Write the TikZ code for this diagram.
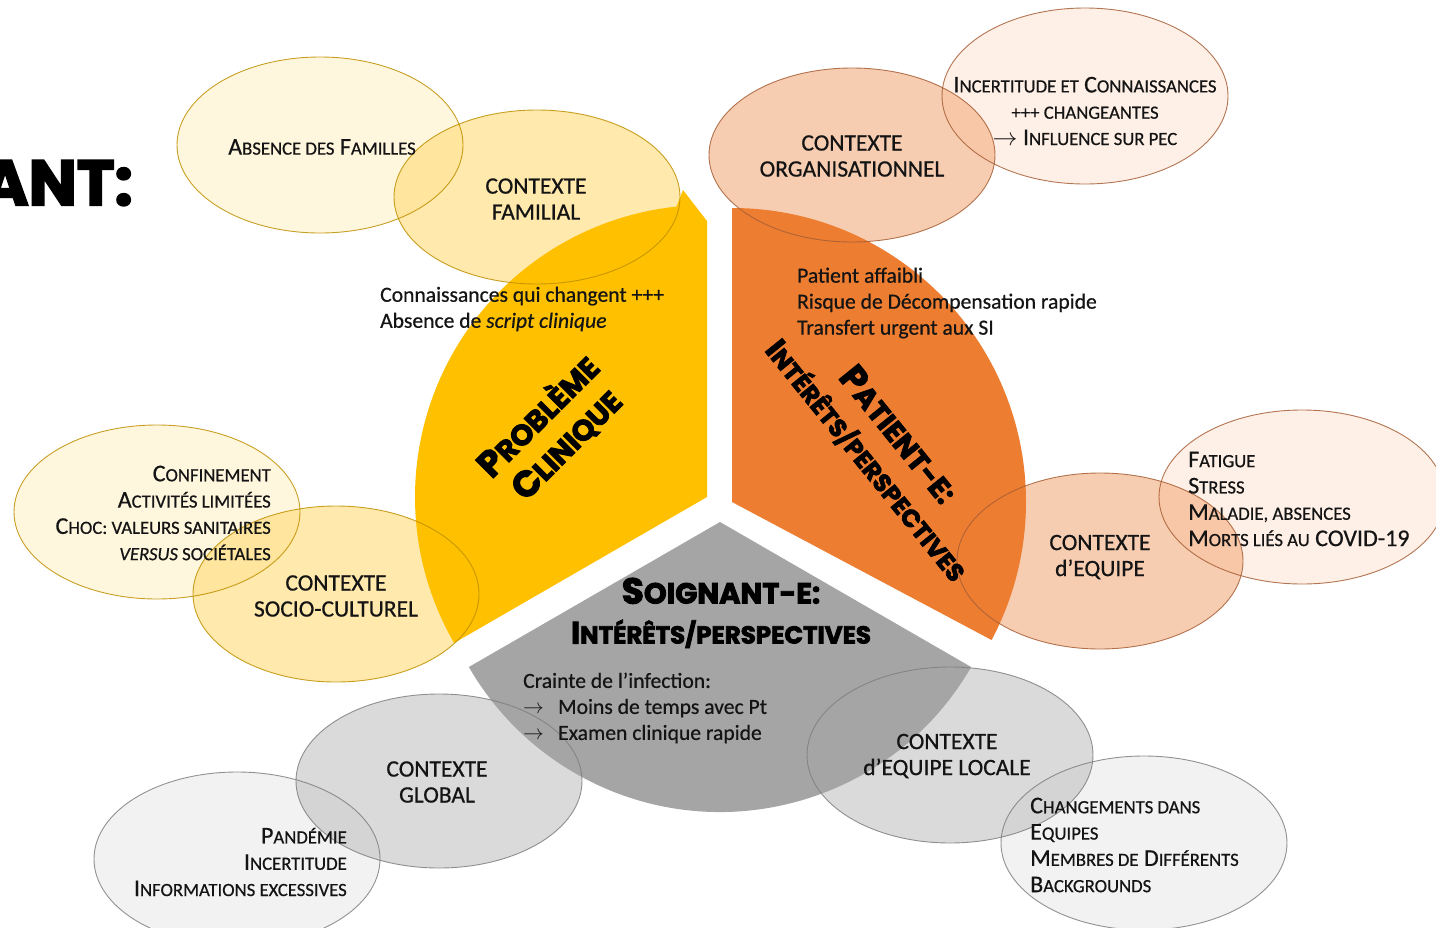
\documentclass[tikz,border=0pt]{standalone}
\usepackage{fontspec}
\setmainfont{Carlito}[UprightFeatures={FakeBold=0.6}, ItalicFeatures={FakeBold=0.6}]
\newfontfamily\heavy{Poppins}[BoldFeatures={FakeBold=3}]

% sector and bubble colours
\definecolor{secY}{HTML}{FFC000}
\definecolor{secO}{HTML}{ED7D31}
\definecolor{secG}{HTML}{A5A5A5}
\definecolor{lnY}{HTML}{BF9000}
\definecolor{lnO}{HTML}{A65E35}
\definecolor{lnG}{HTML}{7F7F7F}
\definecolor{inY}{HTML}{FFDA75}
\definecolor{outY}{HTML}{FFF0C8}
\definecolor{inO}{HTML}{F2AC7D}
\definecolor{outO}{HTML}{FFE6D7}
\definecolor{inG}{HTML}{C1C1C1}
\definecolor{outG}{HTML}{E9E9E9}
\definecolor{ink}{HTML}{141414}

% small capitals built by hand
\newcommand\lo[1]{{\fontsize{18.7}{18.7}\selectfont #1}}
\newcommand\hA[1]{{\fontsize{29}{29}\selectfont #1}}
\newcommand\hC[1]{{\fontsize{24.5}{24.5}\selectfont #1}}
\newcommand\subttl[2]{{\fontsize{31}{31}\selectfont #1\hC{#2}}}
\newcommand\arr{\makebox[35pt][l]{$\rightarrow$}}

\begin{document}
\begin{tikzpicture}[x=1pt,y=-1pt,
  body/.style={inner sep=0pt, text=ink, font=\fontsize{21.6}{26}\selectfont},
  ctx/.style={inner sep=0pt, text=ink, align=center, font=\fontsize{23.5}{26}\selectfont},
  caps/.style={inner sep=0pt, text=ink, font=\fontsize{24}{26.3}\selectfont},
  ttl/.style={inner sep=0pt, text=black, align=center, font=\heavy\bfseries\fontsize{36}{40}\selectfont},
  bubble/.style={line width=0.9pt, draw opacity=0.85},
]
\useasboundingbox (0,0) rectangle (1436,927);

% ---- bubble fills (under the sectors)
\begin{scope}[fill opacity=0.6]
  \fill[outY] (320,145) ellipse [x radius=143, y radius=88];
  \fill[outY] (157,512) ellipse [x radius=143, y radius=87];
  \fill[inY]  (537,197) ellipse [x radius=143, y radius=87];
  \fill[inY]  (336,594) ellipse [x radius=143, y radius=88];
  \fill[outO] (1085,96) ellipse [x radius=143, y radius=88];
  \fill[outO] (1302,497) ellipse [x radius=143, y radius=87];
  \fill[inO]  (852,155) ellipse [x radius=143, y radius=87];
  \fill[inO]  (1100,561) ellipse [x radius=143, y radius=88];
  \fill[outG] (237,859) ellipse [x radius=143, y radius=87];
  \fill[outG] (1144,843) ellipse [x radius=143, y radius=87];
  \fill[inG]  (439,781) ellipse [x radius=143, y radius=87];
  \fill[inG]  (950,755) ellipse [x radius=143, y radius=88];
\end{scope}

% ---- the three exploded sectors
\fill[secY] (707,497) -- ++(150:292) arc[start angle=150, end angle=264, radius=292]
  -- (683,190) -- (707,221) -- cycle;
\fill[secO] (732,502) -- (732,208) arc[start angle=270, end angle=388, radius=294] -- cycle;
\fill[secG] (720,522) -- ++(30:290) arc[start angle=30, end angle=150, radius=290] -- cycle;

% ---- bubble outlines (over the sectors)
\draw[bubble, lnY] (320,145) ellipse [x radius=143, y radius=88];
\draw[bubble, lnY] (157,512) ellipse [x radius=143, y radius=87];
\draw[bubble, lnY] (537,197) ellipse [x radius=143, y radius=87];
\draw[bubble, lnY] (336,594) ellipse [x radius=143, y radius=88];
\draw[bubble, lnO] (1085,96) ellipse [x radius=143, y radius=88];
\draw[bubble, lnO] (1302,497) ellipse [x radius=143, y radius=87];
\draw[bubble, lnO] (852,155) ellipse [x radius=143, y radius=87];
\draw[bubble, lnO] (1100,561) ellipse [x radius=143, y radius=88];
\draw[bubble, lnG] (237,859) ellipse [x radius=143, y radius=87];
\draw[bubble, lnG] (1144,843) ellipse [x radius=143, y radius=87];
\draw[bubble, lnG] (439,781) ellipse [x radius=143, y radius=87];
\draw[bubble, lnG] (950,755) ellipse [x radius=143, y radius=88];

% ---- heading fragment on the left edge
\node[inner sep=0pt, anchor=east, font=\heavy\bfseries\fontsize{64}{64}\selectfont] (ant) at (133,183) {ANT:};

% ---- clinical problem
\node[caps] (absFam) at (322,147) {A\lo{BSENCE DES} F\lo{AMILLES}};
\node[ctx] (ctxFam) at (536,199) {CONTEXTE\\FAMILIAL};
\node[body, align=left, anchor=west] (know) at (380,309) {Connaissances qui changent +++\\Absence de \textit{script clinique}};
\node[ttl, rotate=45] (probTtl) at (552,430) {P\hA{ROBLÈME}\\C\hA{LINIQUE}};
\node[caps, align=right, anchor=east] (confin) at (271,513)
  {C\lo{ONFINEMENT}\\A\lo{CTIVITÉS LIMITÉES}\\C\lo{HOC: VALEURS SANITAIRES}\\\lo{\textit{VERSUS} SOCIÉTALES}};
\node[ctx] (ctxSoc) at (336,596) {CONTEXTE\\SOCIO-CULTUREL};

% ---- patient
\node[ctx] (ctxOrg) at (852,156) {CONTEXTE\\ORGANISATIONNEL};
\node[caps, align=center] (incert) at (1085,111)
  {I\lo{NCERTITUDE ET} C\lo{ONNAISSANCES}\\\lo{+++ CHANGEANTES}\\$\rightarrow$ I\lo{NFLUENCE SUR PEC}};
\node[body, align=left, anchor=west] (patTxt) at (797,303)
  {Patient affaibli\\Risque de Décompensation rapide\\Transfert urgent aux SI};
\node[ttl, rotate=-51] (patTtl) at (882,448) {P\hA{ATIENT-E:}\\\subttl{I}{NTÉRÊTS/PERSPECTIVES}};
\node[ctx] (ctxEq) at (1100,557) {CONTEXTE\\d’EQUIPE};
\node[caps, align=left, anchor=west] (fatig) at (1188,499)
  {F\lo{ATIGUE}\\S\lo{TRESS}\\M\lo{ALADIE, ABSENCES}\\M\lo{ORTS LIÉS AU} COVID-19};

% ---- caregiver
\node[ttl] (soiTtl) at (721,613) {S\hA{OIGNANT-E:}\\\subttl{I}{NTÉRÊTS/PERSPECTIVES}};
\node[body, align=left, anchor=west] (crainte) at (523,708)
  {Crainte de l’infection:\\\arr Moins de temps avec Pt\\\arr Examen clinique rapide};
\node[ctx] (ctxGlob) at (437,782) {CONTEXTE\\GLOBAL};
\node[caps, align=right, anchor=east] (pand) at (347,862)
  {P\lo{ANDÉMIE}\\I\lo{NCERTITUDE}\\I\lo{NFORMATIONS EXCESSIVES}};
\node[ctx] (ctxLoc) at (947,756) {CONTEXTE\\d’EQUIPE LOCALE};
\node[caps, align=left, anchor=west] (chang) at (1030,845)
  {C\lo{HANGEMENTS DANS}\\E\lo{QUIPES}\\M\lo{EMBRES DE} D\lo{IFFÉRENTS}\\B\lo{ACKGROUNDS}};
\end{tikzpicture}
\end{document}
